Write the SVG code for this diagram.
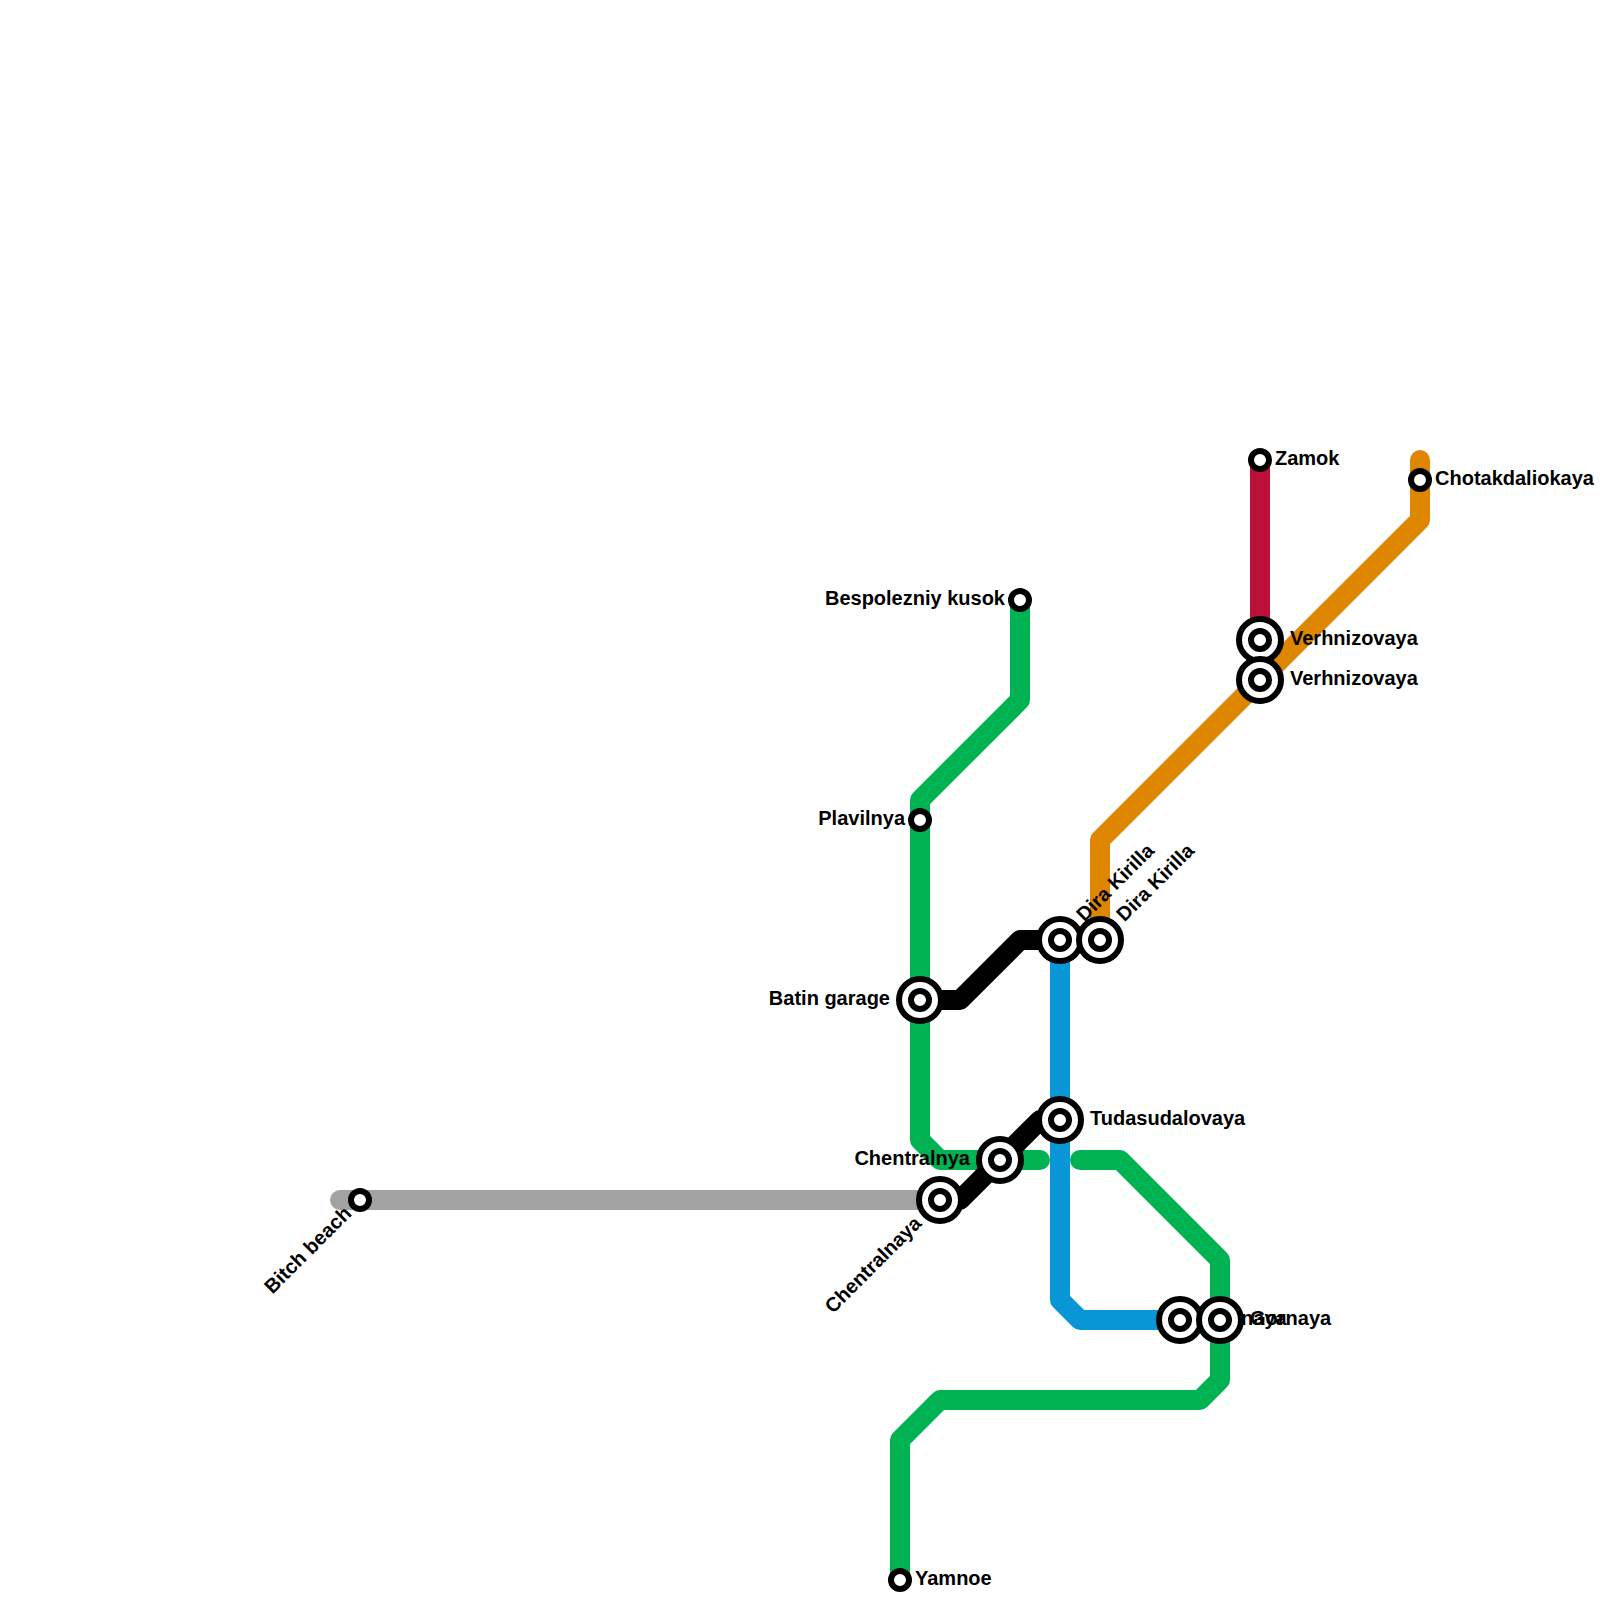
<svg xmlns="http://www.w3.org/2000/svg" width="1600" height="1600" viewBox="0 0 1600 1600">
<style>
.l{fill:none;stroke-width:20;stroke-linecap:round;stroke-linejoin:round}
.g{stroke:#00b251}.y{stroke:#a2a2a2}.k{stroke:#000}.b{stroke:#0896d7}.o{stroke:#df8600}.r{stroke:#bd1038}
.ci{fill:#fff;stroke:#000;stroke-width:6}
.ring{fill:#fff;stroke:#000;stroke-width:6}
text{font-family:"Liberation Sans",Arial,sans-serif;font-weight:700;font-size:20px;fill:#000}
</style>
<defs>
<g id="s1"><circle r="9" class="ci"/></g>
<g id="s2"><circle r="21" class="ring"/><circle r="9" class="ci"/></g>
</defs>
<g id="connectors">
<path class="l y" d="M340 1200H940"/>
<path class="l g" d="M1020 600V700L920 800V1140L940 1160H1040"/>
<path class="l g" d="M1080 1160H1120L1220 1260V1380L1200 1400H940L900 1440V1580"/>
<path class="l b" d="M1060 940V1300L1080 1320H1180"/>
<path class="l o" d="M1100 940V840L1420 520V460"/>
<path class="l r" d="M1260 460V640"/>
<path class="l k" d="M920 1000H960L1020 940H1060"/>
<path class="l k" d="M940 1200H960L1040 1120H1060"/>
</g>
<g id="n-zamok"><use href="#s1" x="1260" y="460"/><text x="1275" y="465">Zamok</text></g>
<g id="n-chotak"><use href="#s1" x="1420" y="480"/><text x="1435" y="485">Chotakdaliokaya</text></g>
<g id="n-verh1"><use href="#s2" x="1260" y="640"/><text x="1290" y="645">Verhnizovaya</text></g>
<g id="n-verh2"><use href="#s2" x="1260" y="680"/><text x="1290" y="685">Verhnizovaya</text></g>
<g id="n-besp"><use href="#s1" x="1020" y="600"/><text x="1005" y="605" text-anchor="end">Bespolezniy kusok</text></g>
<g id="n-plav"><use href="#s1" x="920" y="820"/><text x="905" y="825" text-anchor="end">Plavilnya</text></g>
<g id="n-batin"><use href="#s2" x="920" y="1000"/><text x="890" y="1005" text-anchor="end">Batin garage</text></g>
<g id="n-dira1"><use href="#s2" x="1060" y="940"/><text transform="translate(1081 919) rotate(-45)" x="0" y="5">Dira Kirilla</text></g>
<g id="n-dira2"><use href="#s2" x="1100" y="940"/><text transform="translate(1121 919) rotate(-45)" x="0" y="5">Dira Kirilla</text></g>
<g id="n-tuda"><use href="#s2" x="1060" y="1120"/><text x="1090" y="1125">Tudasudalovaya</text></g>
<g id="n-chentralnya"><use href="#s2" x="1000" y="1160"/><text x="970" y="1165" text-anchor="end">Chentralnya</text></g>
<g id="n-chentralnaya"><use href="#s2" x="940" y="1200"/><text transform="translate(919 1221) rotate(-45)" x="0" y="5" text-anchor="end">Chentralnaya</text></g>
<g id="n-bitch"><use href="#s1" x="360" y="1200"/><text transform="translate(349 1211) rotate(-45)" x="0" y="5" text-anchor="end">Bitch beach</text></g>
<g id="n-a"><use href="#s2" x="1180" y="1320"/><text x="1210" y="1325">Dalnaya</text></g>
<g id="n-b"><use href="#s2" x="1220" y="1320"/><text x="1250" y="1325">Gornaya</text></g>
<g id="n-yamnoe"><use href="#s1" x="900" y="1580"/><text x="915" y="1585">Yamnoe</text></g>
</svg>
